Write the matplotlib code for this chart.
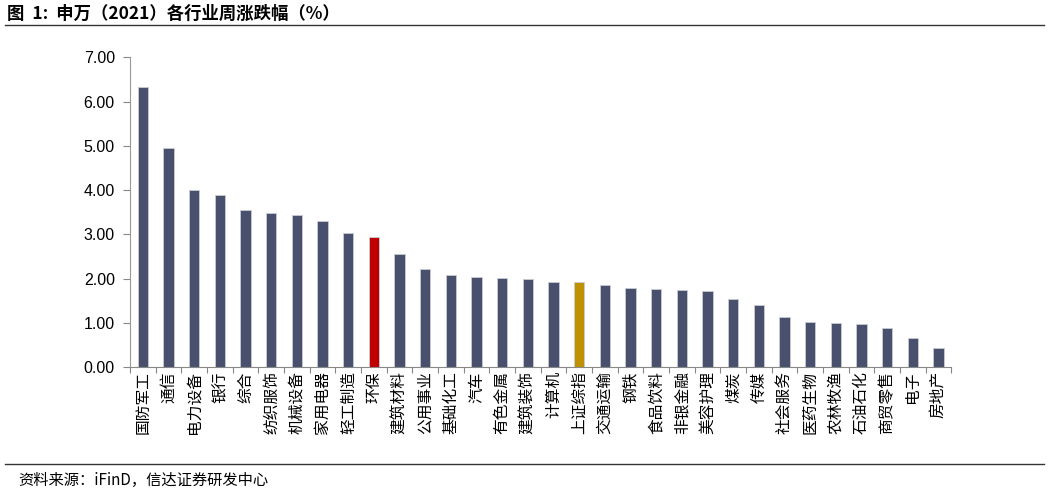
import matplotlib
matplotlib.use("Agg")
import matplotlib.pyplot as plt
import numpy as np

categories = ["国防军工", "通信", "电力设备", "银行", "综合", "纺织服饰", "机械设备", "家用电器",
              "轻工制造", "环保", "建筑材料", "公用事业", "基础化工", "汽车", "有色金属", "建筑装饰",
              "计算机", "上证综指", "交通运输", "钢铁", "食品饮料", "非银金融", "美容护理", "煤炭",
              "传媒", "社会服务", "医药生物", "农林牧渔", "石油石化", "商贸零售", "电子", "房地产"]
values = [6.32, 4.95, 4.01, 3.88, 3.56, 3.48, 3.43, 3.30,
          3.02, 2.93, 2.55, 2.22, 2.08, 2.04, 2.01, 2.00,
          1.93, 1.92, 1.86, 1.79, 1.77, 1.75, 1.72, 1.54,
          1.40, 1.13, 1.02, 0.99, 0.97, 0.89, 0.65, 0.42]
yticks = [0, 1, 2, 3, 4, 5, 6, 7]

highlight = {"环保": "#C00000", "上证综指": "#BF9000"}
base_color = "#48506E"

plt.rcParams['font.family'] = ['Liberation Sans', 'Noto Sans CJK SC', 'DejaVu Sans']
cjk = ['Noto Sans CJK SC', 'DejaVu Sans']

fig = plt.figure(figsize=(10.49, 4.94), dpi=100)
ax = fig.add_axes([0.124, 0.257, 0.783, 0.627])

x = np.arange(len(categories))
colors = [highlight.get(c, base_color) for c in categories]
ax.bar(x, values, width=0.4, color=colors, edgecolor="#C8CCD6", linewidth=0.6)

ax.set_xlim(-0.5, len(categories) - 0.5)
ax.set_ylim(0, 7)
ax.set_yticks(yticks)
ax.set_yticklabels([f"{v:.2f}" for v in yticks], fontsize=11.5, family=['Liberation Sans'])
ax.set_xticks(x)
ax.set_xticklabels(categories, rotation=90, fontsize=11.3, family=cjk, va='top')
ax.set_xticks(np.arange(-0.5, len(categories), 1), minor=True)
ax.tick_params(axis='x', which='major', length=0, pad=3)
ax.tick_params(axis='x', which='minor', length=4, color="#888888", width=0.8, direction='out')
ax.tick_params(axis='y', length=5, color="#888888", width=0.8, pad=6)

for s in ['top', 'right']:
    ax.spines[s].set_visible(False)
ax.spines['left'].set_color("#999999")
ax.spines['bottom'].set_color("#888888")
ax.spines['left'].set_linewidth(0.8)
ax.spines['bottom'].set_linewidth(0.8)

fig.text(0.007, 0.972, "图  1:  申万（2021）各行业周涨跌幅（%）", fontsize=12.5, fontweight='bold',
         family=cjk, va='center', ha='left')
fig.add_artist(plt.Line2D([0.005, 0.995], [0.950, 0.950], color="#333333", linewidth=1.0))
fig.add_artist(plt.Line2D([0.005, 0.995], [0.061, 0.061], color="#333333", linewidth=1.0))
fig.text(0.017, 0.028, "资料来源：iFinD，信达证券研发中心", fontsize=11, style='italic',
         family=cjk, va='center', ha='left')

fig.savefig("out.png", dpi=100)
